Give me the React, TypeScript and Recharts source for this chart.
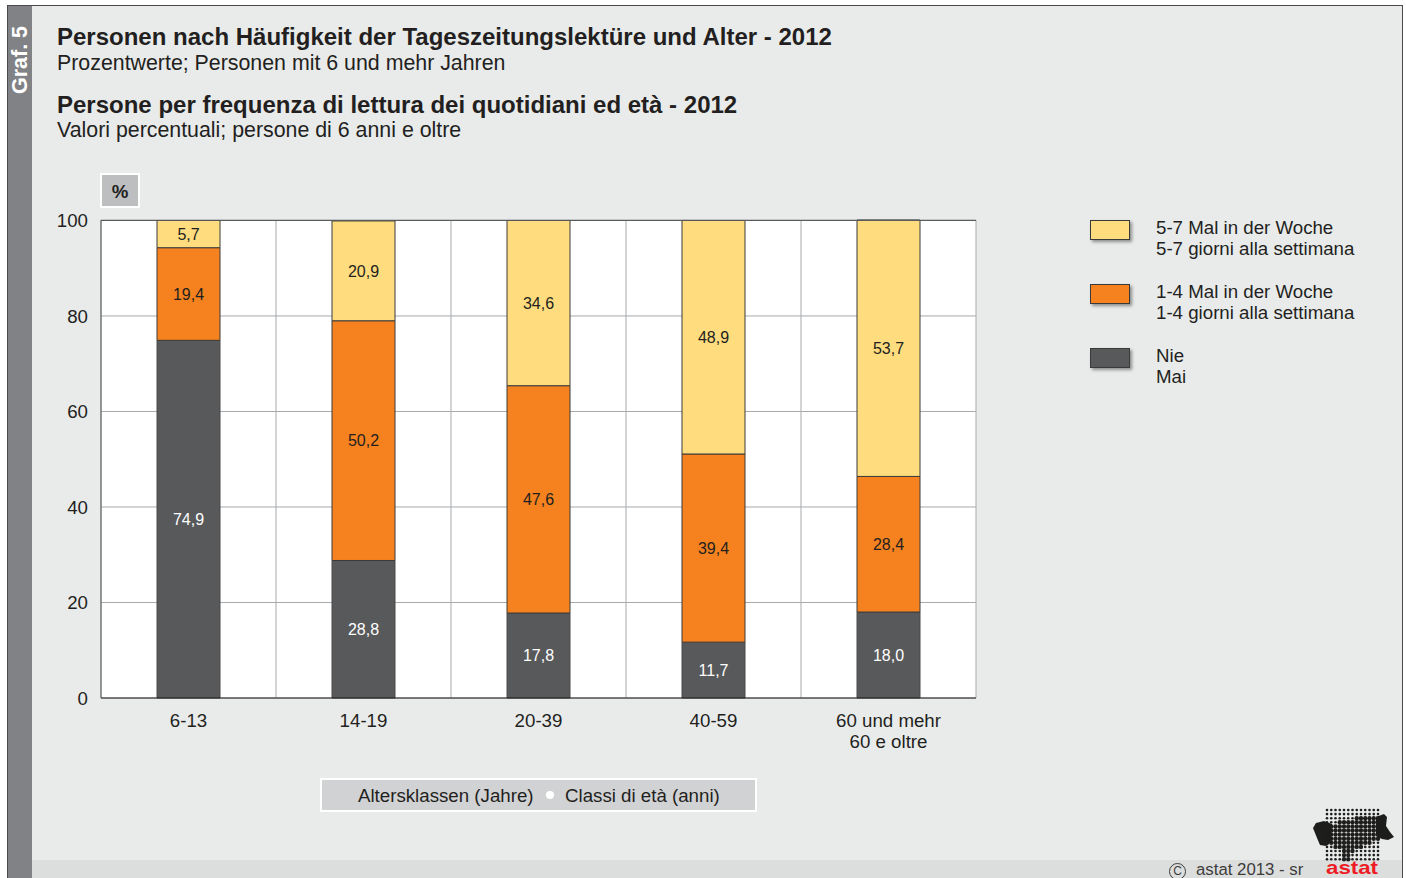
import React from "react";
import { BarChart, Bar, XAxis, YAxis, CartesianGrid, LabelList, Legend, ReferenceLine } from "recharts";

const FONT = '"Liberation Sans", Arial, sans-serif';

const categories = ["6-13", "14-19", "20-39", "40-59", "60 und mehr\n60 e oltre"];
const neverValues = [74.9, 28.8, 17.8, 11.7, 18.0];
const sometimesValues = [19.4, 50.2, 47.6, 39.4, 28.4];
const oftenValues = [5.7, 20.9, 34.6, 48.9, 53.7];
const yTicks = [0, 20, 40, 60, 80, 100];

const legendLabels: Record<string, string[]> = {
  often: ["5-7 Mal in der Woche", "5-7 giorni alla settimana"],
  sometimes: ["1-4 Mal in der Woche", "1-4 giorni alla settimana"],
  never: ["Nie", "Mai"],
};

const chartData = categories.map((category, i) => ({
  category,
  never: neverValues[i],
  sometimes: sometimesValues[i],
  often: oftenValues[i],
}));

const COLORS = { often: "#FFDD7F", sometimes: "#F6821F", never: "#58595B" };
const TEXT = "#231f20";
const BG = "#E9EBEB";

const formatValue = (v: any) => Number(v).toFixed(1).replace(".", ",");

function CategoryTick({ x, y, payload }: any) {
  const lines = String(payload.value).split("\n");
  return (
    <text x={x} y={y} textAnchor="middle" fontSize={18.7} fontFamily={FONT} fill={TEXT}>
      {lines.map((line: string, i: number) => (
        <tspan key={line} x={x} dy={i === 0 ? 9 : 21}>
          {line}
        </tspan>
      ))}
    </text>
  );
}

function LegendBox({ payload }: any) {
  const order = ["often", "sometimes", "never"];
  const items = [...(payload || [])].sort((a: any, b: any) => order.indexOf(a.dataKey) - order.indexOf(b.dataKey));
  return (
    <div style={{ fontFamily: FONT, fontSize: 18.7, color: TEXT, lineHeight: "21px" }}>
      {items.map((item: any) => (
        <div key={item.dataKey} style={{ position: "relative", height: 64, paddingLeft: 66 }}>
          <div
            style={{
              position: "absolute",
              left: 0,
              top: 3,
              width: 38,
              height: 18,
              background: item.color,
              border: "1px solid #3a3a3a",
              boxShadow: "2px 2px 3px rgba(0,0,0,0.4)",
            }}
          />
          {legendLabels[item.dataKey].map((line) => (
            <div key={line}>{line}</div>
          ))}
        </div>
      ))}
    </div>
  );
}

// rows of the big dots in the logo: [first column, last column]
const logoRows = [[1, 0], [1, 0], [7, 12], [3, 12], [0, 12], [0, 12], [0, 12], [0, 12], [0, 10], [2, 8], [4, 6], [4, 5], [4, 5]];

function Logo() {
  const dots: React.ReactNode[] = [];
  logoRows.forEach(([first, last], row) => {
    for (let col = 0; col < 13; col++) {
      const big = col >= first && col <= last;
      dots.push(<circle key={`${row}-${col}`} cx={1327 + col * 4.25} cy={810 + row * 4.1} r={big ? 2.2 : 1.3} fill="#1d1d1b" />);
    }
  });
  return (
    <svg width={1406} height={878} style={{ position: "absolute", left: 0, top: 0, pointerEvents: "none" }}>
      <path d="M1313 828 L1316 823 L1324 821 L1332 824 L1331 842 L1326 846 L1320 845 L1317 838 Z" fill="#1d1d1b" />
      <path d="M1376 817 L1384 814 L1387 817 L1386 826 L1390 832 L1394 837 L1388 840 L1382 839 L1376 836 Z" fill="#1d1d1b" />
      {dots}
      <text x={1326} y={873.5} fontFamily={FONT} fontWeight={700} fontSize={19} fill="#ED1C24" textLength={52} lengthAdjust="spacingAndGlyphs">
        astat
      </text>
    </svg>
  );
}

const titleStyle: React.CSSProperties = { position: "absolute", left: 57, fontFamily: FONT, fontWeight: 700, fontSize: 24, color: TEXT, whiteSpace: "nowrap", lineHeight: "28px" };
const subStyle: React.CSSProperties = { position: "absolute", left: 57, fontFamily: FONT, fontSize: 21.35, color: TEXT, whiteSpace: "nowrap", lineHeight: "24px" };

export default function App() {
  return (
    <div style={{ position: "fixed", left: 0, top: 0, width: 1406, height: 878, background: "#fff", overflow: "hidden" }}>
      <div style={{ position: "absolute", left: 7, top: 5, width: 1394, height: 873, background: BG, border: "1px solid #4a4a4a", borderBottom: "none" }} />
      <div style={{ position: "absolute", left: 8, top: 6, width: 24, height: 872, background: "#808285" }} />
      <div style={{ position: "absolute", left: 32, top: 860, width: 1370, height: 18, background: "#DCDEDE" }} />
      <div
        style={{
          position: "absolute",
          left: 20,
          top: 60,
          transform: "translate(-50%, -50%) rotate(-90deg)",
          fontFamily: FONT,
          fontWeight: 700,
          fontSize: 21.5,
          color: "#fff",
          whiteSpace: "nowrap",
        }}
      >
        Graf. 5
      </div>

      <div style={{ ...titleStyle, top: 23 }}>Personen nach Häufigkeit der Tageszeitungslektüre und Alter - 2012</div>
      <div style={{ ...subStyle, top: 51 }}>Prozentwerte; Personen mit 6 und mehr Jahren</div>
      <div style={{ ...titleStyle, top: 91 }}>Persone per frequenza di lettura dei quotidiani ed età - 2012</div>
      <div style={{ ...subStyle, top: 118 }}>Valori percentuali; persone di 6 anni e oltre</div>

      <div
        style={{
          position: "absolute",
          left: 100,
          top: 173,
          width: 36,
          height: 31,
          border: "2px solid #fff",
          background: "#BCBEC0",
          fontFamily: FONT,
          fontWeight: 700,
          fontSize: 18.7,
          color: TEXT,
          textAlign: "center",
          lineHeight: "33px",
        }}
      >
        %
      </div>

      <div style={{ position: "absolute", left: 0, top: 0 }}>
        <BarChart
          width={1406}
          height={878}
          data={chartData}
          margin={{ top: 220, right: 430, bottom: 120, left: 46 }}
          barSize={63}
          style={{ fontFamily: FONT }}
        >
          <CartesianGrid
            fill="#fff"
            stroke="#a7a9ac"
            strokeWidth={1}
            verticalCoordinatesGenerator={({ offset }: any) =>
              categories.map((_, i) => offset.left + (offset.width * i) / categories.length).concat(offset.left + offset.width)
            }
          />
          <XAxis
            dataKey="category"
            height={60}
            interval={0}
            tickLine={false}
            tickMargin={14}
            tick={<CategoryTick />}
            axisLine={{ stroke: "#231f20", strokeWidth: 1 }}
          />
          <YAxis
            width={55}
            domain={[0, 100]}
            ticks={yTicks}
            tickLine={false}
            tickSize={0}
            tickMargin={13}
            axisLine={{ stroke: "#58595b", strokeWidth: 1 }}
            tick={{ fontSize: 18.7, fontFamily: FONT, fill: TEXT }}
          />
          <ReferenceLine y={100} stroke="#58595b" strokeWidth={1} />
          <Legend
            layout="horizontal"
            align="center"
            verticalAlign="middle"
            content={<LegendBox />}
            wrapperStyle={{ position: "absolute", left: 1090, top: 217, width: 290, height: 190 }}
          />
          <Bar dataKey="never" stackId="a" fill={COLORS.never} stroke="#4a4a4a" strokeWidth={1} isAnimationActive={false}>
            <LabelList dataKey="never" position="center" formatter={formatValue} fontSize={16} fontFamily={FONT} fill="#fff" />
          </Bar>
          <Bar dataKey="sometimes" stackId="a" fill={COLORS.sometimes} stroke="#3a3a3a" strokeWidth={1} isAnimationActive={false}>
            <LabelList dataKey="sometimes" position="center" formatter={formatValue} fontSize={16} fontFamily={FONT} fill={TEXT} />
          </Bar>
          <Bar dataKey="often" stackId="a" fill={COLORS.often} stroke="#3a3a3a" strokeWidth={1} isAnimationActive={false}>
            <LabelList dataKey="often" position="center" formatter={formatValue} fontSize={16} fontFamily={FONT} fill={TEXT} />
          </Bar>
        </BarChart>
      </div>

      <div
        style={{
          position: "absolute",
          left: 320,
          top: 778,
          width: 433,
          height: 30,
          border: "2px solid #fff",
          background: "#D1D2D4",
          fontFamily: FONT,
          fontSize: 18.7,
          color: TEXT,
          lineHeight: "31px",
          whiteSpace: "nowrap",
        }}
      >
        <span style={{ position: "absolute", left: 36 }}>Altersklassen (Jahre)</span>
        <span style={{ position: "absolute", left: 224, top: 11, width: 8, height: 8, borderRadius: 4, background: "#fff" }} />
        <span style={{ position: "absolute", left: 243 }}>Classi di età (anni)</span>
      </div>

      <div style={{ position: "absolute", left: 1169, top: 861, fontFamily: FONT, fontSize: 16.8, color: "#3c3c3b", lineHeight: "17px", whiteSpace: "nowrap" }}>
        <span style={{ display: "inline-block", width: 15, height: 15, border: "1px solid #3c3c3b", borderRadius: 9, fontSize: 12, lineHeight: "15px", textAlign: "center", marginRight: 10 }}>C</span>
        astat 2013 - sr
      </div>
      <Logo />
    </div>
  );
}
